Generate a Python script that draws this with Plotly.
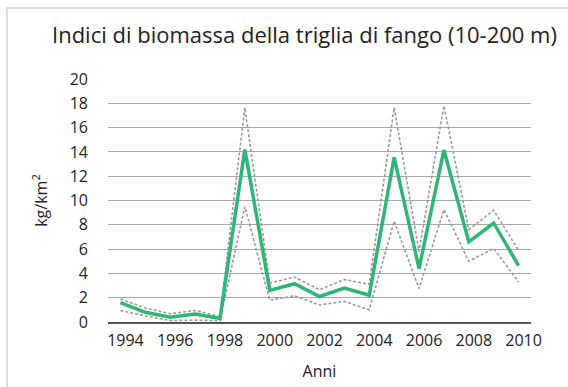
import plotly.graph_objects as go

# Indici di biomassa della triglia di fango, 1994-2010 (kg/km²)
anni = list(range(1994, 2011))
biomassa = [1.6, 0.8, 0.4, 0.65, 0.3, 14.2, 2.6, 3.15, 2.1, 2.8, 2.2, 13.55, 4.4, 14.15, 6.6, 8.15, 4.65]
limite_sup = [1.9, 1.15, 0.68, 0.95, 0.45, 17.65, 3.2, 3.7, 2.65, 3.5, 3.1, 17.65, 5.8, 17.8, 7.6, 9.2, 5.9]
limite_inf = [0.95, 0.5, 0.12, 0.15, 0.1, 9.5, 1.8, 2.15, 1.4, 1.7, 1.0, 8.3, 2.75, 9.25, 5.0, 6.05, 3.3]
tick_anni = [1994, 1996, 1998, 2000, 2002, 2004, 2006, 2008, 2010]
tick_y = [0, 2, 4, 6, 8, 10, 12, 14, 16, 18, 20]

FONT = "Open Sans"
GREEN = "#2db674"
DASH = "#9a9a9a"

fig = go.Figure()
for serie in (limite_sup, limite_inf):
    fig.add_trace(go.Scatter(
        x=anni, y=serie, mode="lines",
        line=dict(color=DASH, width=1.6, dash="3px,2px"),
        hoverinfo="skip", showlegend=False,
    ))
fig.add_trace(go.Scatter(
    x=anni, y=biomassa, mode="lines",
    line=dict(color=GREEN, width=3.5),
    showlegend=False,
))

fig.update_layout(
    width=568, height=387,
    margin=dict(l=108, r=37, t=79, b=65),
    paper_bgcolor="white", plot_bgcolor="white",
    font=dict(family=FONT, size=16, color="#222"),
    title=dict(
        text="Indici di biomassa della triglia di fango (10-200 m)",
        font=dict(family=FONT, size=22, color="#222"),
        x=304.5 / 568, xanchor="center", y=1 - 35 / 387, yanchor="middle",
    ),
    xaxis=dict(
        range=[1993.5, 2010.5], tickvals=tick_anni,
        ticktext=[str(a) for a in tick_anni],
        showgrid=False, zeroline=False, automargin=False,
        showline=True, linecolor="#555", linewidth=2,
        ticks="", ticklabelshift=5, ticklabelstandoff=3,
        title=dict(text="Anni", font=dict(size=16), standoff=16),
    ),
    yaxis=dict(
        range=[0, 20], tickvals=tick_y, automargin=False,
        showgrid=True, gridcolor="#a8a8a8", gridwidth=1.3,
        zeroline=False, showline=False, ticks="",
        ticklabelstandoff=19,
        title=dict(text="kg/km<sup>2</sup>", font=dict(size=16), standoff=18),
    ),
    shapes=[dict(
        type="rect", xref="paper", yref="paper",
        x0=(7 - 108) / 423, x1=2.0, y0=-1.0, y1=1 + (79 - 8) / 243,
        line=dict(color="#cfcfcf", width=1.5), fillcolor="rgba(0,0,0,0)",
        layer="below",
    )],
)

fig.write_html("out.html")
